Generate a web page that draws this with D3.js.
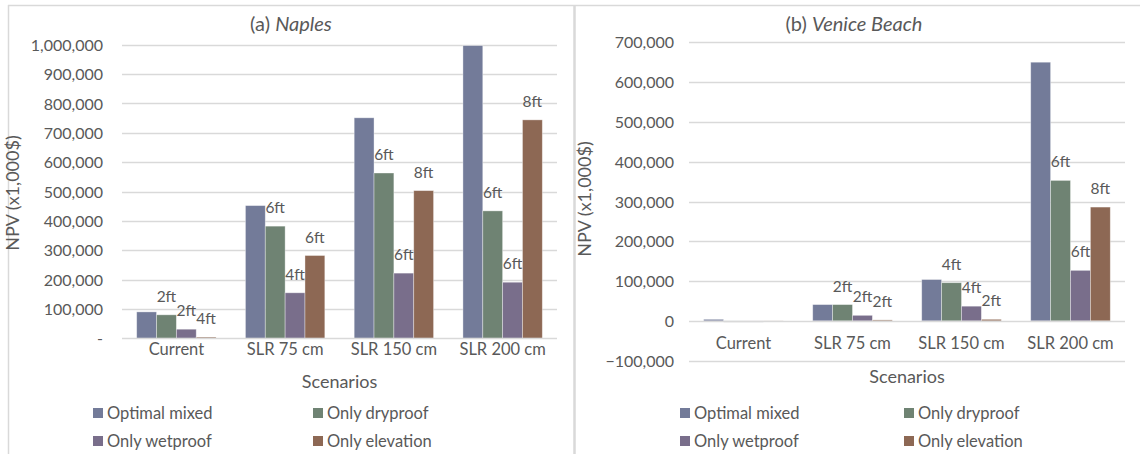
<!DOCTYPE html>
<html>
<head>
<meta charset="utf-8">
<script src="https://cdn.jsdelivr.net/npm/d3@7"></script>
<style>
  html, body { margin: 0; padding: 0; background: #fff; }
  svg { display: block; font-family: Lato, "Open Sans", sans-serif; }
</style>
</head>
<body>
<svg id="chart" width="1140" height="454"></svg>
<script>
// Scenarios on the x axis and the four adaptation strategies
const scenarios = ["Current", "SLR 75 cm", "SLR 150 cm", "SLR 200 cm"];
const strategies = ["Optimal mixed", "Only dryproof", "Only wetproof", "Only elevation"];
const strategyColors = ["#737b99", "#6f8373", "#796e8b", "#8d6854"];

// NPV (x1,000$) — Naples
const naplesOptimal   = [90000, 452000, 751000, 997000];
const naplesDryproof  = [80000, 382000, 563000, 434000];
const naplesWetproof  = [31000, 155000, 222000, 191000];
const naplesElevation = [4000, 282000, 503000, 744000];
// Design heights shown above bars — Naples
const naplesDryLabels  = ["2ft", "6ft", "6ft", "6ft"];
const naplesWetLabels  = ["2ft", "4ft", "6ft", "6ft"];
const naplesElevLabels = ["4ft", "6ft", "8ft", "8ft"];

// NPV (x1,000$) — Venice Beach
const veniceOptimal   = [4000, 41000, 104000, 650000];
const veniceDryproof  = [-3000, 41000, 96000, 353000];
const veniceWetproof  = [-3000, 14000, 37000, 127000];
const veniceElevation = [-500, 2500, 4000, 286000];
// Design heights shown above bars — Venice Beach
const veniceDryLabels  = ["", "2ft", "4ft", "6ft"];
const veniceWetLabels  = ["", "2ft", "4ft", "6ft"];
const veniceElevLabels = ["", "2ft", "2ft", "8ft"];

// Axis ticks
const naplesTicks = [0, 100000, 200000, 300000, 400000, 500000, 600000, 700000, 800000, 900000, 1000000];
const veniceTicks = [-100000, 0, 100000, 200000, 300000, 400000, 500000, 600000, 700000];

const TEXT = "#595959";
const GRID = "#d9d9d9";
const svg = d3.select("#chart");

// Outer frames of the two chart boxes
svg.append("line").attr("x1", 8).attr("x2", 1140).attr("y1", 5.5).attr("y2", 5.5)
  .attr("stroke", GRID).attr("stroke-width", 1.5);
svg.append("line").attr("x1", 8.5).attr("x2", 8.5).attr("y1", 5).attr("y2", 454)
  .attr("stroke", GRID).attr("stroke-width", 1.5);
svg.append("line").attr("x1", 574.5).attr("x2", 574.5).attr("y1", 5).attr("y2", 454)
  .attr("stroke", GRID).attr("stroke-width", 2.5);

function drawPanel(cfg) {
  const g = svg.append("g");
  const x = d3.scaleBand().domain(scenarios).range(cfg.xRange)
    .paddingInner(0.27).paddingOuter(0.135);
  const xs = d3.scaleBand().domain(strategies).range([0, x.bandwidth()]);
  const y = d3.scaleLinear().domain(cfg.yDomain).range(cfg.yRange);
  const color = d3.scaleOrdinal().domain(strategies).range(strategyColors);

  // Title
  const title = g.append("text").attr("x", cfg.titleX).attr("y", 31)
    .attr("text-anchor", "middle").attr("fill", TEXT).attr("font-size", 20);
  title.append("tspan").text(cfg.titlePrefix + " ");
  title.append("tspan").attr("font-style", "italic").text(cfg.titleName);

  // Gridlines
  g.append("g").selectAll("line").data(cfg.ticks.filter(t => t !== 0)).join("line")
    .attr("x1", cfg.xRange[0]).attr("x2", cfg.xRange[1])
    .attr("y1", d => Math.round(y(d)) + 0.5).attr("y2", d => Math.round(y(d)) + 0.5)
    .attr("stroke", GRID).attr("stroke-width", 1.3);

  // Y axis tick labels
  const yAxis = d3.axisLeft(y).tickValues(cfg.ticks).tickSize(0).tickPadding(0)
    .tickFormat(cfg.tickFormat);
  const ya = g.append("g").attr("transform", `translate(${cfg.tickLabelX},0)`).call(yAxis);
  ya.select(".domain").remove();
  ya.selectAll("text").attr("fill", TEXT).attr("font-size", 16)
    .attr("font-family", "Lato, sans-serif").attr("dy", "0.35em");

  // Bars
  const rows = scenarios.map((s, i) => ({
    scenario: s,
    values: strategies.map((k, j) => ({ key: k, value: cfg.series[j][i], label: cfg.labels[j][i] }))
  }));
  const groups = g.append("g").selectAll("g").data(rows).join("g")
    .attr("transform", d => `translate(${x(d.scenario)},0)`);
  groups.selectAll("rect").data(d => d.values).join("rect")
    .attr("x", d => xs(d.key))
    .attr("width", xs.bandwidth())
    .attr("y", d => y(Math.max(0, d.value)))
    .attr("height", d => Math.abs(y(d.value) - y(0)))
    .attr("fill", d => color(d.key))
    .attr("stroke", "rgba(255,255,255,0.45)").attr("stroke-width", 0.8);

  // Zero axis line
  g.append("line").attr("x1", cfg.xRange[0]).attr("x2", cfg.xRange[1])
    .attr("y1", Math.round(y(0)) + 0.5).attr("y2", Math.round(y(0)) + 0.5)
    .attr("stroke", GRID).attr("stroke-width", 1.3);

  // Design height labels
  groups.selectAll("text.lbl").data(d => d.values.filter(v => v.label)).join("text")
    .attr("class", "lbl")
    .attr("x", d => xs(d.key) + xs.bandwidth() / 2)
    .attr("y", d => y(Math.max(0, d.value)) - 13)
    .attr("text-anchor", "middle").attr("fill", TEXT).attr("font-size", 15.5)
    .text(d => d.label);

  // Category labels
  g.append("g").selectAll("text").data(scenarios).join("text")
    .attr("x", d => x(d) + x.bandwidth() / 2).attr("y", cfg.catY)
    .attr("text-anchor", "middle").attr("fill", TEXT).attr("font-size", 16.5)
    .text(d => d);

  // Axis titles
  const midX = (cfg.xRange[0] + cfg.xRange[1]) / 2;
  g.append("text").attr("x", midX).attr("y", cfg.scenY)
    .attr("text-anchor", "middle").attr("fill", TEXT).attr("font-size", 18)
    .text("Scenarios");
  g.append("text")
    .attr("transform", `translate(${cfg.yTitleX},${cfg.yTitleY}) rotate(-90)`)
    .attr("text-anchor", "middle").attr("fill", TEXT).attr("font-size", 18)
    .text("NPV (x1,000$)");

  // Legend (2 x 2)
  const leg = g.append("g").selectAll("g").data(strategies).join("g")
    .attr("transform", (d, i) => `translate(${cfg.legX[i % 2]},${cfg.legY[Math.floor(i / 2)]})`);
  leg.append("rect").attr("x", 0).attr("y", -5).attr("width", 10).attr("height", 10)
    .attr("fill", d => color(d));
  leg.append("text").attr("x", 14).attr("y", 0).attr("dy", "0.36em")
    .attr("fill", TEXT).attr("font-size", 16.5).text(d => d);
}

drawPanel({
  titlePrefix: "(a)", titleName: "Naples", titleX: 291,
  xRange: [122, 557], yDomain: [0, 1000000], yRange: [338.3, 44.7],
  ticks: naplesTicks, tickLabelX: 103,
  tickFormat: d => d === 0 ? "-  " : d3.format(",")(d),
  series: [naplesOptimal, naplesDryproof, naplesWetproof, naplesElevation],
  labels: [["", "", "", ""], naplesDryLabels, naplesWetLabels, naplesElevLabels],
  catY: 355, scenY: 388, yTitleX: 19, yTitleY: 193,
  legX: [93, 313], legY: [413, 441]
});

drawPanel({
  titlePrefix: "(b)", titleName: "Venice Beach", titleX: 854,
  xRange: [689, 1125], yDomain: [-100000, 700000], yRange: [360.7, 42.3],
  ticks: veniceTicks, tickLabelX: 674,
  tickFormat: d3.format(","),
  series: [veniceOptimal, veniceDryproof, veniceWetproof, veniceElevation],
  labels: [["", "", "", ""], veniceDryLabels, veniceWetLabels, veniceElevLabels],
  catY: 349, scenY: 383, yTitleX: 591, yTitleY: 199,
  legX: [680, 904], legY: [413, 441]
});
</script>
</body>
</html>
